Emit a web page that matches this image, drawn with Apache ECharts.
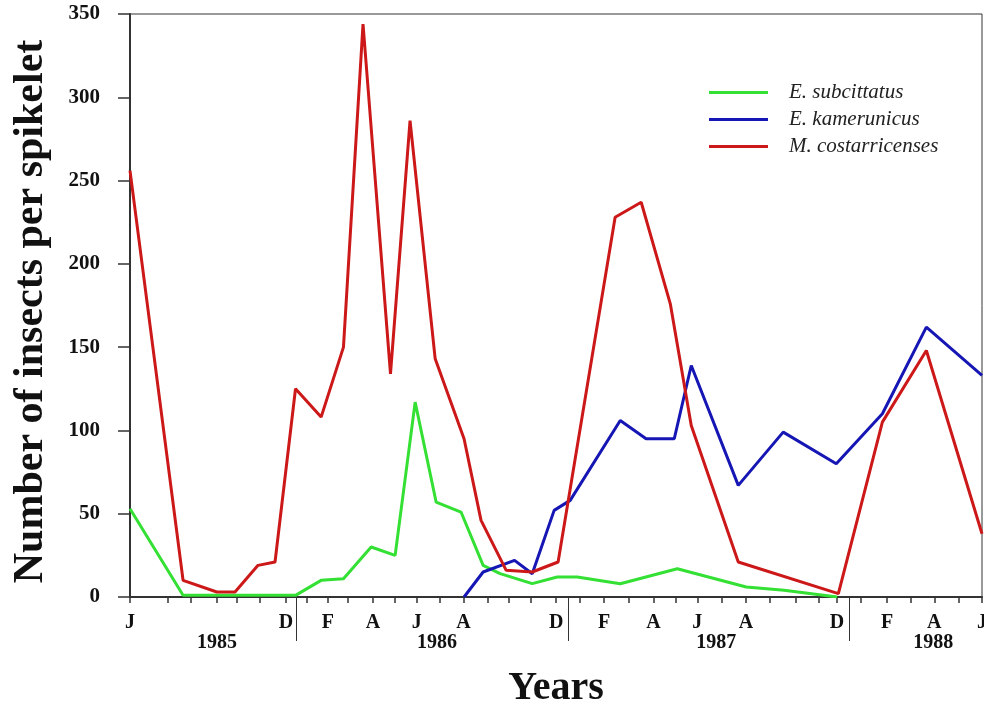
<!DOCTYPE html>
<html><head><meta charset="utf-8">
<script src="https://cdn.jsdelivr.net/npm/echarts@6/dist/echarts.min.js"></script>
<style>html,body{margin:0;padding:0;background:#fff}#c{width:984px;height:703px}</style>
</head><body><div id="c"></div>
<script>
// x axis unit: months counted from Jan 1985 (as drawn on the reference's linear axis)
const tickMonths = [4.40, 6.02, 7.02, 8.13, 8.99, 9.99, 11.10, 11.99, 12.90, 13.77, 14.84, 15.79, 16.72, 17.72, 18.72, 19.75, 20.66, 21.62, 22.71, 23.74, 24.77, 25.81, 26.89, 27.86, 28.77, 29.83, 30.86, 31.90, 32.98, 33.98, 34.77, 35.81, 36.92, 37.92, 38.95, 39.98, 41.00];
const monthLabelPos = [4.40, 11.10, 12.90, 14.84, 16.72, 18.72, 22.71, 24.77, 26.89, 28.77, 30.86, 34.77, 36.92, 38.95, 41.00];
const monthLabelText = ['J','D','F','A','J','A','D','F','A','J','A','D','F','A','J'];
const yearDividerPos = [11.56, 23.24, 35.30];
const yearLabelPos = [8.14, 17.59, 29.58, 38.91];
const yearLabelText = ['1985','1986','1987','1988'];

const seriesNames = ['E. subcittatus', 'E. kamerunicus', 'M. costarricenses'];

const subcittatusMonths = [4.40, 6.68, 8.13, 8.91, 9.90, 10.63, 11.51, 12.61, 13.57, 14.76, 15.79, 16.65, 17.55, 18.62, 19.57, 20.30, 21.68, 22.75, 23.61, 25.46, 27.91, 30.87, 32.50, 34.78];
const subcittatusValues = [53, 1, 1, 1, 1, 1, 1, 10, 11, 30, 25, 117, 57, 51, 19, 14, 8, 12, 12, 8, 17, 6, 4, 0];

const kamerunicusMonths = [18.75, 19.57, 20.92, 21.68, 22.62, 23.31, 25.46, 26.57, 27.78, 28.51, 30.53, 32.46, 34.74, 36.72, 38.61, 41.00];
const kamerunicusValues = [0, 15, 22, 14, 52, 58, 106, 95, 95, 139, 67, 99, 80, 110, 162, 133];

const costarricensesMonths = [4.40, 6.68, 8.13, 8.91, 9.90, 10.63, 11.51, 12.61, 13.57, 14.41, 15.59, 16.43, 17.51, 18.75, 19.48, 20.56, 21.68, 22.79, 25.24, 26.36, 27.61, 28.51, 30.53, 34.83, 36.72, 38.61, 41.00];
const costarricensesValues = [256, 10, 3, 3, 19, 21, 125, 108, 150, 344, 134, 286, 143, 95, 46, 16, 15, 21, 228, 237, 176, 103, 21, 2, 105, 148, 38];

const pairs = (xs, ys) => xs.map((x, i) => [x, ys[i]]);
const lookup = (pos, txt) => v => { const i = pos.findIndex(p => Math.abs(p - v) < 1e-6); return i >= 0 ? txt[i] : ''; };

const serif = 'Liberation Serif';
const chart = echarts.init(document.getElementById('c'), null, {renderer: 'canvas'});
chart.setOption({
  animation: false,
  backgroundColor: '#fff',
  grid: {left: 130, right: 2, top: 14, bottom: 106, show: true, borderColor: '#333', borderWidth: 1,
    containLabel: false, outerBoundsMode: 'none'},
  legend: {
    orient: 'vertical', left: 709, top: 82, padding: 0, itemWidth: 59, itemHeight: 3, itemGap: 6, icon: 'rect',
    data: seriesNames,
    textStyle: {fontFamily: serif, fontStyle: 'italic', fontSize: 21, color: '#222', padding: [0, 0, 0, 16]}
  },
  xAxis: [{
    type: 'value', min: 4.4, max: 41, position: 'bottom',
    splitLine: {show: false},
    axisLine: {onZero: false, lineStyle: {color: '#333', width: 2}},
    axisTick: {customValues: tickMonths, length: 6, lineStyle: {color: '#333', width: 1.5}},
    axisLabel: {customValues: monthLabelPos, formatter: lookup(monthLabelPos, monthLabelText), margin: 16,
      fontFamily: serif, fontWeight: 'bold', fontSize: 20, color: '#111'},
    name: 'Years', nameLocation: 'middle', nameGap: 72,
    nameTextStyle: {fontFamily: serif, fontWeight: 'bold', fontSize: 40, color: '#111'}
  }, {
    type: 'value', min: 4.4, max: 41, position: 'bottom', offset: 7,
    splitLine: {show: false},
    axisLine: {show: false},
    axisTick: {customValues: yearDividerPos, length: 44, lineStyle: {color: '#333', width: 1}},
    axisLabel: {customValues: yearLabelPos, formatter: lookup(yearLabelPos, yearLabelText), margin: 29,
      fontFamily: serif, fontWeight: 'bold', fontSize: 20, color: '#111'}
  }],
  yAxis: {
    type: 'value', min: 0, max: 350, interval: 50,
    splitLine: {show: false},
    axisLine: {show: true, lineStyle: {color: '#333', width: 2}},
    axisTick: {show: true, length: 12, lineStyle: {color: '#333', width: 1.5}},
    axisLabel: {margin: 30, fontFamily: serif, fontWeight: 'bold', fontSize: 21, color: '#111'},
    name: 'Number of insects per spikelet', nameLocation: 'middle', nameGap: 78,
    nameTextStyle: {fontFamily: serif, fontWeight: 'bold', fontSize: 42, color: '#111', padding: [0, 12, 0, 0]}
  },
  series: [
    {name: seriesNames[0], type: 'line', symbol: 'none', data: pairs(subcittatusMonths, subcittatusValues),
      lineStyle: {width: 3, color: '#33e033'}, itemStyle: {color: '#33e033'}},
    {name: seriesNames[1], type: 'line', symbol: 'none', data: pairs(kamerunicusMonths, kamerunicusValues),
      lineStyle: {width: 3, color: '#1616b4'}, itemStyle: {color: '#1616b4'}},
    {name: seriesNames[2], type: 'line', symbol: 'none', data: pairs(costarricensesMonths, costarricensesValues),
      lineStyle: {width: 3, color: '#cc1818'}, itemStyle: {color: '#cc1818'}}
  ]
});
</script></body></html>
